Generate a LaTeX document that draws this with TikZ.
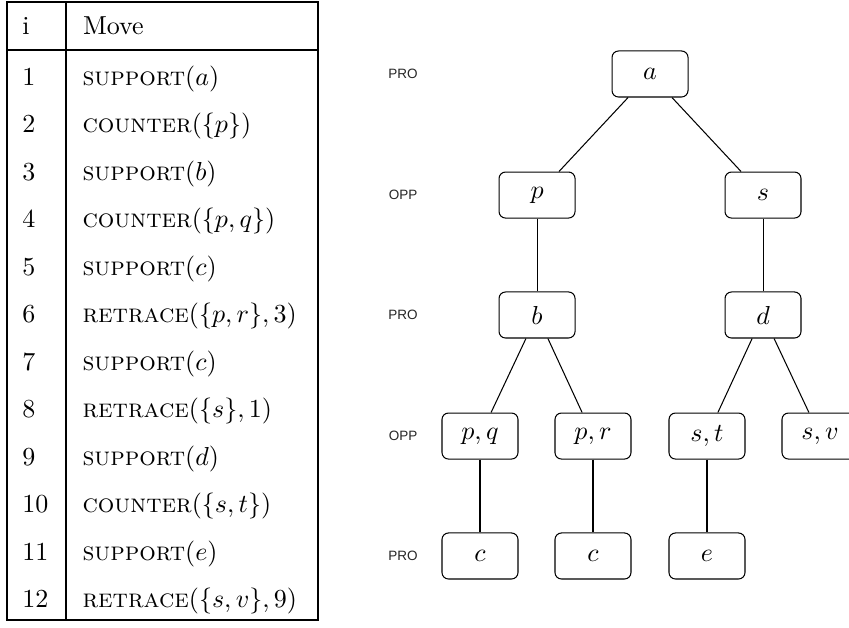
\documentclass[tikz,border=0pt]{standalone}
\usepackage{fontspec}
\newfontfamily\lvlfont{Liberation Sans}
\usepackage{tikz}

\begin{document}
\begin{tikzpicture}[
  box/.style={rectangle, draw, line width=0.4pt, rounded corners=2.5pt, minimum width=1.027cm, minimum height=0.622cm, inner sep=0pt, align=center},
  lvl/.style={font=\lvlfont\fontsize{5.2}{6}\selectfont, inner sep=0pt, text=black!85},
  idx/.style={anchor=base west, inner sep=0pt},
  move/.style={anchor=base west, inner sep=0pt},
  tabline/.style={line width=0.5pt},
  edge/.style={line width=0.4pt}
]
  \useasboundingbox (0,0) rectangle (11.474,8.474);

  % table of moves
  \draw[tabline] (0.095,0.095) rectangle (4.298,8.447);
  \draw[tabline] (0.892,0.095) -- (0.892,8.447);
  \draw[tabline] (0.095,7.798) -- (4.298,7.798);

  \node[idx] (hi) at (0.297,8.001) {i};
  \node[move] (hmove) at (1.115,8.001) {Move};

  \node[idx] (i1) at (0.297,7.325) {1};
  \node[move] (m1) at (1.108,7.325) {\textsc{support}$(a)$};
  \node[idx] (i2) at (0.297,6.683) {2};
  \node[move] (m2) at (1.108,6.683) {\textsc{counter}$(\{p\})$};
  \node[idx] (i3) at (0.297,6.041) {3};
  \node[move] (m3) at (1.108,6.041) {\textsc{support}$(b)$};
  \node[idx] (i4) at (0.297,5.399) {4};
  \node[move] (m4) at (1.108,5.399) {\textsc{counter}$(\{p,q\})$};
  \node[idx] (i5) at (0.297,4.757) {5};
  \node[move] (m5) at (1.108,4.757) {\textsc{support}$(c)$};
  \node[idx] (i6) at (0.297,4.115) {6};
  \node[move] (m6) at (1.108,4.115) {\textsc{retrace}$(\{p,r\},3)$};
  \node[idx] (i7) at (0.297,3.473) {7};
  \node[move] (m7) at (1.108,3.473) {\textsc{support}$(c)$};
  \node[idx] (i8) at (0.297,2.831) {8};
  \node[move] (m8) at (1.108,2.831) {\textsc{retrace}$(\{s\},1)$};
  \node[idx] (i9) at (0.297,2.189) {9};
  \node[move] (m9) at (1.108,2.189) {\textsc{support}$(d)$};
  \node[idx] (i10) at (0.297,1.547) {10};
  \node[move] (m10) at (1.108,1.547) {\textsc{counter}$(\{s,t\})$};
  \node[idx] (i11) at (0.297,0.905) {11};
  \node[move] (m11) at (1.108,0.905) {\textsc{support}$(e)$};
  \node[idx] (i12) at (0.297,0.264) {12};
  \node[move] (m12) at (1.108,0.264) {\textsc{retrace}$(\{s,v\},9)$};

  % level labels
  \node[lvl] (lvla) at (5.447,7.474) {PRO};
  \node[lvl] (lvlb) at (5.447,5.838) {OPP};
  \node[lvl] (lvlc) at (5.447,4.217) {PRO};
  \node[lvl] (lvld) at (5.447,2.581) {OPP};
  \node[lvl] (lvle) at (5.447,0.960) {PRO};

  % dispute tree
  \node[box] (a) at (8.785,7.474) {$a$};
  \node[box] (p) at (7.258,5.838) {$p$};
  \node[box] (s) at (10.312,5.838) {$s$};
  \node[box] (b) at (7.258,4.217) {$b$};
  \node[box] (d) at (10.312,4.217) {$d$};
  \node[box] (pq) at (6.487,2.581) {$p,q$};
  \node[box] (pr) at (8.014,2.581) {$p,r$};
  \node[box] (st) at (9.555,2.581) {$s,t$};
  \node[box] (sv) at (11.082,2.581) {$s,v$};
  \node[box] (c1) at (6.487,0.960) {$c$};
  \node[box] (c2) at (8.014,0.960) {$c$};
  \node[box] (e) at (9.555,0.960) {$e$};

  \draw[edge] (a) -- (p);
  \draw[edge] (a) -- (s);
  \draw[edge] (p) -- (b);
  \draw[edge] (s) -- (d);
  \draw[edge] (b) -- (pq);
  \draw[edge] (b) -- (pr);
  \draw[edge] (d) -- (st);
  \draw[edge] (d) -- (sv);
  \draw[edge] (pq) -- (c1);
  \draw[edge] (pr) -- (c2);
  \draw[edge] (st) -- (e);
\end{tikzpicture}
\end{document}
